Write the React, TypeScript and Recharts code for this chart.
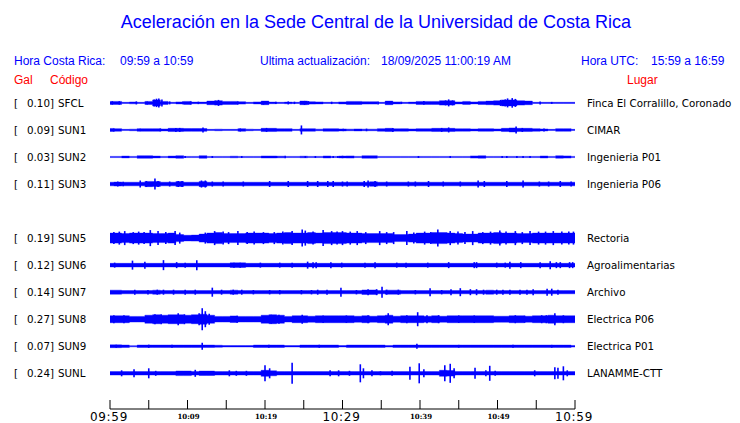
import React from 'react';
import { ComposedChart, Area, Scatter, ErrorBar, XAxis, YAxis } from 'recharts';

// ---------- data ----------
const codes = ['SFCL', 'SUN1', 'SUN2', 'SUN3', 'SUN5', 'SUN6', 'SUN7', 'SUN8', 'SUN9', 'SUNL'];
const peakGal = ['0.10', '0.09', '0.03', '0.11', '0.19', '0.12', '0.14', '0.27', '0.07', '0.24'];
const places = [
  'Finca El Corralillo, Coronado',
  'CIMAR',
  'Ingenieria P01',
  'Ingenieria P06',
  'Rectoria',
  'Agroalimentarias',
  'Archivo',
  'Electrica P06',
  'Electrica P01',
  'LANAMME-CTT',
];
// trace slot of each station (slot 4 is empty)
const slots = [0, 1, 2, 3, 5, 6, 7, 8, 9, 10];

// minutes since 09:59
const minutes = Array.from({ length: 61 }, (_, i) => i);
const timeTicks = [0, 5, 10, 15, 20, 25, 30, 35, 40, 45, 50, 55, 60];
const timeLabels: Record<number, string> = {
  0: '09:59', 10: '10:09', 20: '10:19', 30: '10:29', 40: '10:39', 50: '10:49', 60: '10:59',
};
const bigLabels = [0, 30, 60];

// envelope half-amplitude per minute (trace units, 27 units = trace spacing)
const envSFCL = [1.5,1.5,0.6,0.9,0.6,1.5,3.0,1.5,0.6,1.0,
  1.5,0.8,0.8,1.8,2.2,1.5,1.5,1.2,0.6,1.0,
  1.8,0.8,0.6,0.8,0.6,1.8,1.2,1.0,0.6,0.6,
  1.0,1.5,1.5,1.2,1.2,0.6,1.8,1.0,0.6,0.8,
  1.5,1.5,1.5,2.2,2.2,1.0,1.5,1.0,1.5,1.8,
  2.2,3.0,3.0,2.2,1.8,0.6,0.6,0.6,0.6,0.6,
  0.6];
const envSUN1 = [1.5,1.3,0.6,0.8,1.3,1.3,1.3,1.0,1.6,1.6,
  1.4,1.4,1.4,0.6,0.8,0.6,0.6,1.3,0.8,0.6,
  1.6,1.6,1.3,1.3,0.6,1.3,1.3,0.8,1.3,1.3,
  1.0,0.8,1.0,0.8,0.8,1.3,1.6,1.2,1.3,1.0,
  1.3,1.3,1.6,1.6,1.6,1.2,1.2,1.0,1.3,1.3,
  1.0,1.6,2.0,1.6,1.6,1.3,1.0,0.6,1.3,1.3,
  0.6];
const envSUN2 = [0.6,0.6,0.9,0.6,1.3,1.3,0.9,0.6,0.9,1.3,
  0.6,0.6,1.3,0.6,0.6,0.6,0.8,0.6,0.6,0.6,
  1.0,1.0,0.8,0.6,0.6,0.8,0.6,0.6,1.0,0.6,
  0.9,1.1,0.6,1.2,1.2,0.6,0.6,0.6,0.6,0.6,
  0.6,0.6,0.6,0.6,0.6,0.6,0.6,1.1,1.2,0.6,
  0.6,0.6,0.6,0.6,0.6,0.6,1.0,0.6,1.2,1.1,
  0.6];
const envSUN3 = [1.8,2.0,1.8,1.8,1.8,2.6,2.4,1.8,1.8,2.4,
  1.8,1.8,2.6,1.8,1.8,1.8,1.8,1.8,1.8,1.8,
  1.8,1.8,1.8,1.8,1.8,1.8,1.8,1.8,1.8,1.8,
  1.8,1.8,1.8,1.8,2.2,1.8,1.8,1.8,1.8,1.8,
  1.8,1.8,1.8,1.8,1.8,1.8,1.8,1.8,1.8,1.8,
  1.8,1.8,1.8,1.8,1.8,1.8,1.8,1.8,1.8,1.8,
  1.8];
const envSUN5 = [5,5,4.5,5,5,5,4.5,4.5,5,3.5,
  2.8,3,4,5,5.5,4.5,4.5,4.5,5,5,
  5,4.5,5,5.5,5,5,5.5,5,5.5,5.5,
  5.5,5,5,4.5,4.5,4.5,4.5,3.5,3.5,4,
  5,5,5.5,5.5,5,4.5,4,4,5,5,
  5.5,5,5,4.5,4.5,5,5,5,5,5,
  5];
const envSUN6 = [1.8,1.8,1.8,1.8,1.8,1.8,1.8,1.8,1.8,1.8,
  1.8,1.8,1.8,1.8,1.8,1.8,2.3,2.3,1.8,1.8,
  1.8,1.8,1.8,1.8,1.8,1.8,1.8,1.8,1.8,1.8,
  1.8,1.8,1.8,1.8,1.8,1.8,1.8,1.8,1.8,1.8,
  1.8,1.8,1.8,1.8,1.8,1.8,1.8,1.8,1.8,1.8,
  1.8,1.8,1.8,1.8,1.8,1.8,1.8,1.8,1.8,1.8,
  1.8];
const envSUN7 = [2.0,2.0,1.6,1.6,1.6,1.6,2.0,1.6,1.6,1.6,
  1.6,1.6,1.6,1.6,1.6,1.6,2.0,1.6,1.6,1.6,
  1.6,1.6,1.6,1.6,1.6,1.6,1.6,1.6,1.6,1.6,
  1.6,1.6,1.6,2.2,2.2,1.6,2.0,2.0,1.6,1.6,
  1.6,1.6,1.6,1.6,1.6,1.6,1.6,1.6,1.6,2.0,
  1.6,1.6,1.6,1.6,1.6,1.6,1.6,1.6,1.6,1.6,
  1.6];
const envSUN8 = [3.5,3.5,3.5,2.8,2.8,4,4.5,4,4.5,4.5,
  4,4.5,5,4,2.8,2.8,3.3,2.8,2.8,2.8,
  4,4.5,4,2.8,3.5,3.5,3,3.5,3.5,3.5,
  3.5,3.5,3,3.5,3,3.5,4,3,3.5,3.5,
  3.5,3,3.5,3,3.5,3.5,3.5,3.5,3.5,3.5,
  3,3,3.5,3.5,3,3.5,3.5,4,3.5,3.5,
  3.5];
const envSUN9 = [1.4,1.4,1.2,0.6,1.2,1.2,1.2,1.2,1.2,1.2,
  1.2,1.2,1.2,1.2,1.0,0.7,0.7,0.7,0.7,1.2,
  1.2,1.2,1.2,0.7,0.7,1.2,1.2,1.2,1.2,1.2,
  0.7,1.2,1.2,1.2,1.2,1.2,0.8,1.2,1.2,1.2,
  1.2,1.2,1.2,1.2,1.2,1.2,1.2,1.2,1.2,1.2,
  1.2,1.2,1.2,1.2,1.2,1.2,1.2,1.2,1.2,1.2,
  0.8];
const envSUNL = [1.7,1.7,1.7,1.7,1.7,1.7,1.7,1.7,1.7,2.3,
  2.3,1.7,2.2,2.2,1.7,1.7,1.7,1.7,1.7,1.7,
  3.0,2.5,1.7,1.7,1.7,1.7,1.7,1.7,1.7,1.7,
  1.7,1.7,1.7,1.7,1.7,1.7,1.7,1.7,1.7,1.7,
  1.7,1.7,1.7,3.0,2.8,1.7,1.7,1.7,1.7,1.7,
  1.7,1.7,1.7,1.7,1.7,1.7,1.7,1.7,1.7,1.7,
  1.7];

// short bursts: [minute, half-amplitude]
const spkSFCL = [[0.3,1.7],[1.2,1.7],[3.4,1.5],[4.8,1.5],[5.7,3.5],[6.0,4.2],[6.3,4.5],[6.7,3.5],[7.7,1.5],[9.4,1.3],[10.4,1.5],[11.4,1.2],[13.6,2.2],[14.0,3.0],[16.5,1.5],[19.8,1.8],[21.4,1.2],[23.0,1.5],[23.8,1.2],[25.1,2.0],[25.6,1.8],[28.6,1.2],[34.6,1.5],[37.6,1.2],[40.5,1.8],[43.3,2.5],[43.7,3.5],[44.2,2.5],[50.4,3.0],[51.0,3.5],[51.3,4.5],[51.9,4.8],[52.3,4.0],[55.5,1.5],[57.0,1.0]];
const spkSUN1 = [[0.5,1.5],[3.9,1.2],[6.5,1.5],[8.5,2.0],[9.0,2.0],[12.0,2.5],[16.8,1.5],[20.2,2.0],[24.7,4.5],[30.1,1.2],[33.1,1.3],[36.5,2.0],[42.8,2.0],[43.7,2.5],[52.4,3.5],[53.2,2.0],[56.0,1.5]];
const spkSUN2 = [[1.8,1.0],[6.2,1.0],[7.7,1.0],[9.7,1.0],[13.2,1.0],[17.0,1.0],[21.5,1.0],[22.6,1.2],[25.2,1.0],[26.5,1.0],[28.8,1.0],[29.4,1.0],[30.0,1.2],[39.8,1.0],[43.9,1.0],[50.6,1.0],[51.2,1.0],[52.5,1.0],[53.3,1.0],[54.2,1.0]];
const spkSUN3 = [[1.0,2.5],[1.7,2.2],[3.9,3.5],[4.7,3.0],[5.8,5.5],[6.2,3.0],[7.7,2.5],[8.8,3.0],[9.3,3.0],[11.8,3.5],[12.3,3.5],[13.2,2.5],[14.6,2.5],[17.2,2.5],[20.6,3.0],[23.0,3.0],[25.5,3.0],[26.8,3.0],[28.1,3.0],[28.8,3.0],[30.0,2.5],[30.6,2.5],[32.8,3.0],[33.3,3.5],[34.2,3.0],[35.7,2.5],[38.5,2.5],[39.4,2.5],[41.1,3.0],[43.0,2.5],[45.2,2.5],[47.5,3.5],[48.3,3.0],[51.2,3.0],[53.3,3.5],[55.4,2.5],[56.6,2.5],[58.1,3.0],[59.5,2.5]];
const spkSUN5 = [[0.5,6],[1.2,6.5],[1.9,7],[3.0,6],[3.7,6.5],[4.4,6],[5.2,8],[6.2,7],[7.2,6],[8.4,7],[9.0,5.5],[12.3,5.5],[13.5,7],[14.6,6.5],[15.3,6],[16.5,7],[17.7,6],[18.6,6.5],[19.8,6],[21.2,6],[22.3,6.5],[23.5,7],[24.8,8.5],[25.2,7.5],[26.2,6.5],[27.5,8],[28.6,7],[29.3,6.5],[30.0,7],[31.0,6.5],[31.9,7],[33.0,6],[34.8,7],[35.7,6],[36.6,6],[38.3,7],[39.2,5.5],[40.6,6.5],[41.4,6],[42.3,8.5],[43.9,7],[44.9,6.5],[45.8,6],[46.8,7],[48.1,6],[49.1,6.5],[50.3,7.5],[51.1,6.5],[52.3,7],[53.2,6],[54.2,7],[55.3,6.5],[56.2,6.5],[57.2,7],[58.3,6.5],[59.2,6.5],[59.8,6.5]];
const spkSUN6 = [[0.6,2.5],[2.9,4.5],[4.5,3.5],[6.9,5],[8.6,3],[9.7,2.5],[11.2,5],[16.0,2.5],[16.8,2.5],[19.4,2.5],[21.9,2.5],[23.5,2.5],[25.5,3.5],[26.2,3],[26.6,3],[28.5,3],[29.9,2.5],[32.9,2.5],[34.2,3],[37.0,2.5],[38.2,2.5],[41.0,2.5],[43.7,3],[47.0,3],[47.3,3],[49.9,2.5],[51.0,2.5],[51.6,3.5],[53.0,3],[55.5,3],[56.8,4],[57.6,3],[58.1,3],[59.3,3],[59.7,3]];
const spkSUN7 = [[3.2,2.5],[4.9,2.2],[6.1,2.5],[6.9,2.5],[8.2,2.5],[9.7,2.5],[11.0,2.5],[13.2,4.5],[14.4,2.5],[15.9,2.5],[17.0,2.5],[18.5,2.2],[20.6,2.2],[21.9,2.2],[24.7,2.2],[26.0,2.2],[26.8,2.5],[28.0,2.5],[29.8,4.5],[31.8,2.2],[33.3,3.0],[34.4,3.0],[35.1,5.5],[35.7,2.5],[37.2,2.5],[39.4,2.2],[41.3,4.0],[42.8,2.2],[44.0,3.0],[45.2,4.0],[46.5,3.0],[47.3,3.0],[48.2,2.5],[49.9,2.5],[50.7,2.5],[51.6,2.5],[52.9,2.5],[53.8,2.5],[54.6,3.0],[56.4,3.5],[57.0,3.5],[57.8,2.5]];
const spkSUN8 = [[0.5,4.0],[1.8,4.0],[5.8,5.0],[6.6,5.0],[8.8,6.0],[9.6,5.0],[11.5,6.0],[11.9,11.0],[12.3,8.0],[12.8,5.5],[16.4,3.5],[20.8,4.5],[21.8,4.5],[24.8,4.5],[27.5,3.8],[30.5,3.8],[33.3,4.0],[35.9,6.0],[38.3,4.0],[39.7,7.0],[40.9,4.0],[42.4,4.0],[45.0,3.8],[47.0,3.8],[52.3,4.0],[53.5,3.5],[55.7,4.0],[56.3,4.0],[57.4,6.0],[58.5,4.0]];
const spkSUN9 = [[0.8,1.6],[5.0,1.6],[8.0,1.5],[11.9,3.5],[20.5,1.5],[27.0,1.5],[39.6,2.5],[45.0,1.4],[52.0,1.4],[57.0,1.4]];
const spkSUNL = [[1.5,3],[3.1,4],[5.0,5],[5.9,2.5],[11.0,3.5],[15.4,3],[16.3,2.5],[17.6,2.5],[20.0,8],[20.6,5],[23.5,10.5],[28.4,3],[29.5,3],[30.9,2.5],[32.3,9],[32.7,5],[33.8,3],[34.9,2],[36.4,2.5],[38.7,6.5],[39.9,10],[40.5,4],[43.2,8],[43.9,9.5],[44.4,5],[47.1,5.5],[48.5,3],[49.0,7.5],[49.7,2.5],[54.8,3],[57.4,6],[57.8,5.5],[58.5,7],[59.0,3]];

const envelopes = [envSFCL, envSUN1, envSUN2, envSUN3, envSUN5, envSUN6, envSUN7, envSUN8, envSUN9, envSUNL];
const spikes = [spkSFCL, spkSUN1, spkSUN2, spkSUN3, spkSUN5, spkSUN6, spkSUN7, spkSUN8, spkSUN9, spkSUNL];

const UNITS_PER_SLOT = 27;

// ---------- derived tables ----------
const table = minutes.map((t, i) => {
  const row: Record<string, any> = { t };
  codes.forEach((c, s) => {
    const a = envelopes[s][i] / UNITS_PER_SLOT;
    row[c] = [slots[s] - a, slots[s] + a];
  });
  return row;
});
const spikeTables = spikes.map((list, s) =>
  list.map(([t, a]) => ({ t, k: slots[s], e: a / UNITS_PER_SLOT }))
);

const BLUE = '#0000ff';
const Y_DOMAIN: [number, number] = [-0.551, 11.32];

const LeftTick = (p: any) => {
  const s = slots.indexOf(p.payload.value);
  if (s < 0) return null;
  const y = p.y;
  const st = { fontFamily: 'DejaVu Sans', fontSize: 10.3, fill: '#000' };
  return (
    <g>
      <text x={14} y={y} dominantBaseline="central" style={st}>[</text>
      <text x={27} y={y} dominantBaseline="central" style={st}>{peakGal[s]}]</text>
      <text x={58} y={y} dominantBaseline="central" style={st}>{codes[s]}</text>
    </g>
  );
};

const RightTick = (p: any) => {
  const s = slots.indexOf(p.payload.value);
  if (s < 0) return null;
  return (
    <text x={587} y={p.y} dominantBaseline="central"
      style={{ fontFamily: 'DejaVu Sans', fontSize: 10.3, fill: '#000' }}>
      {places[s]}
    </text>
  );
};

const XTick = (p: any) => {
  const v = p.payload.value;
  const x = p.x;
  const y0 = p.y;
  const label = timeLabels[v];
  const big = bigLabels.includes(v);
  return (
    <g>
      <line x1={x} x2={x} y1={y0 - 9} y2={y0} stroke="#000" strokeWidth={1} />
      {label && big && (
        <text x={x - 1} y={y0 + 12} textAnchor="middle"
          style={{ fontFamily: 'DejaVu Sans', fontSize: 12, letterSpacing: 0.7, fill: '#000' }}>
          {label}
        </text>
      )}
      {label && !big && (
        <text x={x + 1} y={y0 + 9.5} textAnchor="middle"
          style={{ fontFamily: 'DejaVu Serif', fontSize: 7, fontWeight: 'bold', fill: '#000' }}>
          {label}
        </text>
      )}
    </g>
  );
};

const txt = (left: number, top: number, color: string, size: number, s: string) => (
  <div style={{ position: 'absolute', left, top, color, fontSize: size, lineHeight: `${size}px`, whiteSpace: 'nowrap' }}>{s}</div>
);

export default function App() {
  return (
    <div style={{ position: 'absolute', left: 0, top: 0, width: 740, height: 423, background: '#fff', fontFamily: '"Liberation Sans", Arial, sans-serif', overflow: 'hidden' }}>
      <div style={{ position: 'absolute', left: 0, top: 13, width: 752, textAlign: 'center', color: BLUE, fontSize: 18, lineHeight: '18px' }}>
        Aceleración en la Sede Central de la Universidad de Costa Rica
      </div>
      {txt(14, 55, BLUE, 12, 'Hora Costa Rica:')}
      {txt(120, 55, BLUE, 12, '09:59 a 10:59')}
      {txt(260, 55, BLUE, 12, 'Ultima actualización:')}
      {txt(381, 55, BLUE, 12, '18/09/2025 11:00:19 AM')}
      {txt(581, 55, BLUE, 12, 'Hora UTC:')}
      {txt(651, 55, BLUE, 12, '15:59 a 16:59')}
      {txt(14, 74, '#ff0000', 12, 'Gal')}
      {txt(50, 74, '#ff0000', 12, 'Código')}
      {txt(627, 74, '#ff0000', 12, 'Lugar')}
      <div style={{ position: 'absolute', left: 0, top: 0 }}>
        <ComposedChart width={740} height={423} data={table} margin={{ top: 88, right: 0, bottom: 0, left: 0 }}>
          <XAxis dataKey="t" type="number" domain={[0, 60]} ticks={timeTicks} interval={0}
            allowDataOverflow height={14} tickSize={0} tickMargin={0} tickLine={false}
            axisLine={{ stroke: '#000', strokeWidth: 1 }} tick={(p: any) => <XTick {...p} />} />
          <YAxis yAxisId="L" dataKey="k" type="number" domain={Y_DOMAIN} reversed allowDataOverflow
            width={110} ticks={slots} interval={0} axisLine={false} tickLine={false}
            tick={(p: any) => <LeftTick {...p} />} />
          <YAxis yAxisId="R" orientation="right" type="number" domain={Y_DOMAIN} reversed allowDataOverflow
            width={165} ticks={slots} interval={0} axisLine={false} tickLine={false}
            tick={(p: any) => <RightTick {...p} />} />
          {codes.map((c) => (
            <Area key={c} yAxisId="L" dataKey={c} type="step" stroke={BLUE} strokeWidth={0.4}
              fill={BLUE} fillOpacity={1} isAnimationActive={false} dot={false} activeDot={false} />
          ))}
          {codes.map((c, s) => (
            <Scatter key={'s' + c} yAxisId="L" data={spikeTables[s]} isAnimationActive={false}
              shape={() => <g />}>
              <ErrorBar dataKey="e" direction="y" width={0} stroke={BLUE} strokeWidth={1.6} isAnimationActive={false} />
            </Scatter>
          ))}
        </ComposedChart>
      </div>
    </div>
  );
}
